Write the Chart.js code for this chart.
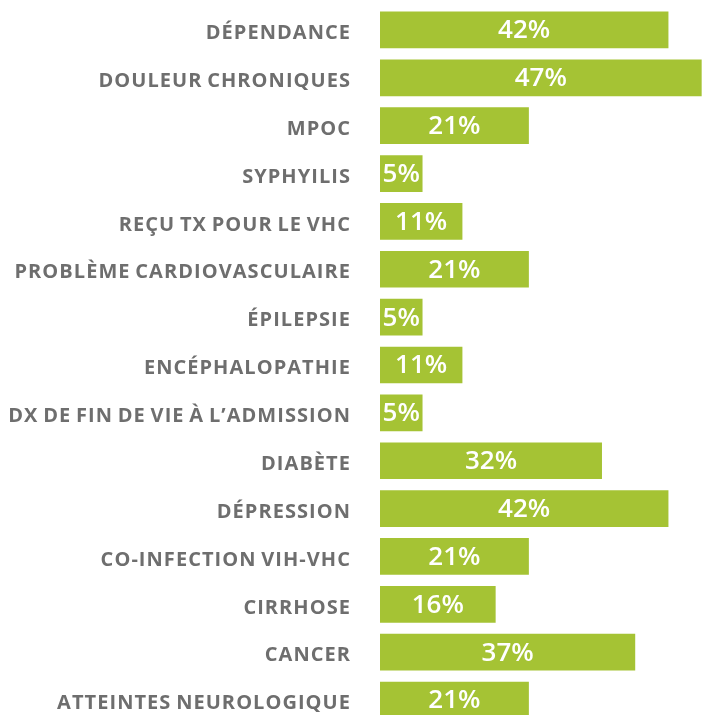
<!DOCTYPE html>
<html>
<head>
<meta charset="utf-8">
<script src="https://cdn.jsdelivr.net/npm/chart.js@4/dist/chart.umd.min.js"></script>
<style>
  html, body { margin: 0; padding: 0; background: #ffffff; overflow: hidden; }
  #wrap { position: relative; width: 703px; height: 724px; }
</style>
</head>
<body>
<div id="wrap"><canvas id="c"></canvas></div>
<script>
const categories = [
  "DÉPENDANCE",
  "DOULEUR CHRONIQUES",
  "MPOC",
  "SYPHYILIS",
  "REÇU TX POUR LE VHC",
  "PROBLÈME CARDIOVASCULAIRE",
  "ÉPILEPSIE",
  "ENCÉPHALOPATHIE",
  "DX DE FIN DE VIE À L’ADMISSION",
  "DIABÈTE",
  "DÉPRESSION",
  "CO-INFECTION VIH-VHC",
  "CIRRHOSE",
  "CANCER",
  "ATTEINTES NEUROLOGIQUE"
];
const percentages = [42, 47, 21, 5, 11, 21, 5, 11, 5, 32, 42, 21, 16, 37, 21];

const BAR_GREEN = "#a5c334";
const LABEL_GREY = "#6e6e6e";
const AXIS_MIN = -1.4;

const textSpacing = {
  id: "textSpacing",
  beforeDraw(chart) {
    chart.ctx.letterSpacing = "1.05px";
    chart.ctx.wordSpacing = "-1.5px";
  }
};

const valueLabels = {
  id: "valueLabels",
  afterDatasetsDraw(chart) {
    const ctx = chart.ctx;
    const meta = chart.getDatasetMeta(0);
    ctx.save();
    ctx.letterSpacing = "0px";
    ctx.wordSpacing = "0px";
    ctx.fillStyle = "#ffffff";
    ctx.font = "600 26px 'Open Sans'";
    ctx.textAlign = "center";
    ctx.textBaseline = "middle";
    meta.data.forEach((bar, i) => {
      const p = bar.getProps(["x", "y", "base"], true);
      const cx = (p.x + p.base) / 2;
      ctx.fillText(percentages[i] + "%", cx, p.y + 1);
    });
    ctx.restore();
  }
};

new Chart(document.getElementById("c"), {
  type: "bar",
  data: {
    labels: categories,
    datasets: [{
      data: percentages,
      backgroundColor: BAR_GREEN,
      borderWidth: 0,
      base: AXIS_MIN,
      barPercentage: 0.767,
      categoryPercentage: 1.0
    }]
  },
  options: {
    indexAxis: "y",
    responsive: true,
    maintainAspectRatio: false,
    animation: false,
    layout: { padding: { top: 6, bottom: 0, left: 0, right: 0 } },
    plugins: {
      legend: { display: false },
      tooltip: { enabled: false }
    },
    scales: {
      x: {
        display: false,
        min: AXIS_MIN,
        max: 47.2
      },
      y: {
        afterFit(scale) {
          scale.width = 380;
          scale.paddingTop = 0;
          scale.paddingBottom = 0;
        },
        grid: { display: false, drawTicks: false },
        border: { display: false },
        ticks: {
          color: LABEL_GREY,
          padding: 29,
          labelOffset: 3.5,
          autoSkip: false,
          font: { family: "'Open Sans'", size: 20, weight: "700" }
        }
      }
    }
  },
  plugins: [textSpacing, valueLabels]
});
</script>
</body>
</html>
